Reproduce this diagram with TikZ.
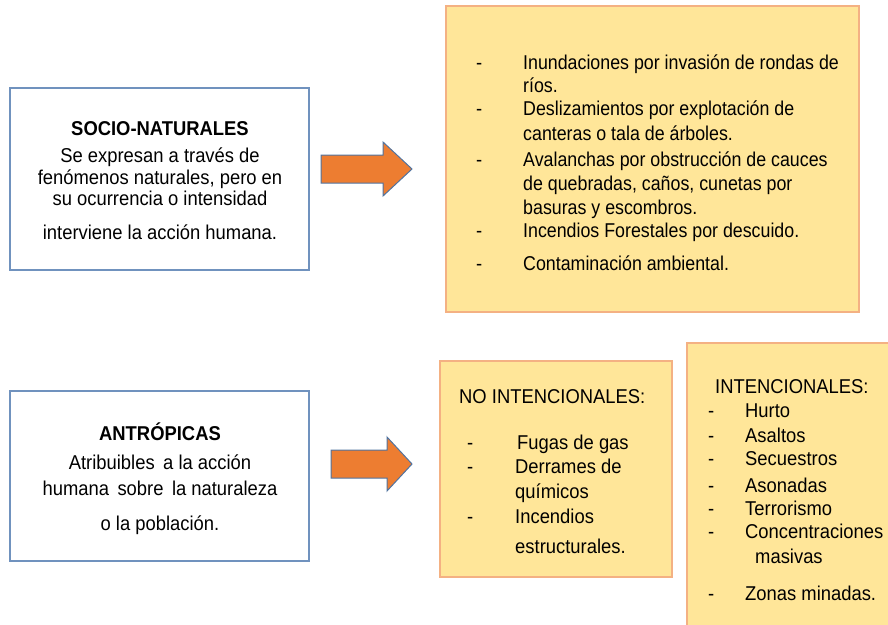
\documentclass[tikz,border=0pt]{standalone}
\usepackage{fontspec}
\setmainfont{Liberation Sans}[FakeStretch=0.92]
\newfontfamily\tightfont{Liberation Sans}[FakeStretch=0.89]
\definecolor{bluebd}{RGB}{112,146,190}
\definecolor{yelfill}{RGB}{255,230,153}
\definecolor{orabd}{RGB}{244,177,131}
\definecolor{arrfill}{RGB}{237,125,49}
\definecolor{arrbd}{RGB}{80,115,160}
\begin{document}
\begin{tikzpicture}[x=1pt,y=-1pt,
  bluebox/.style={draw=bluebd,line width=2pt,fill=white},
  yelbox/.style={draw=orabd,line width=1.5pt,fill=yelfill},
  bigarrow/.style={draw=arrbd,line width=1pt,fill=arrfill,line join=miter},
  txt/.style={inner sep=0pt,font=\fontsize{20}{24}\selectfont,text=black},
  ctxt/.style={txt,anchor=base},
  ltxt/.style={txt,anchor=base west},
  ttxt/.style={inner sep=0pt,font=\tightfont\fontsize{20}{24}\selectfont,text=black,anchor=base west}]
\useasboundingbox (0,0) rectangle (888,624);
\clip (0,0) rectangle (888,624);

% --- boxes ---
\draw[bluebox] (10,88) rectangle (309,270);
\coordinate (b1) at (160,0);
\draw[yelbox] (446,6) rectangle (859,312);
\draw[bluebox] (10,391) rectangle (309,561);
\draw[yelbox] (440,361) rectangle (672,577);
\draw[yelbox] (687,343) rectangle (900,640);

% --- arrows ---
\draw[bigarrow] (321,155) -- (383,155) -- (383,142) -- (412,169) -- (383,196) -- (383,183) -- (321,183) -- cycle;
\draw[bigarrow] (331,450) -- (387,450) -- (387,437) -- (412,464) -- (387,491) -- (387,478) -- (331,478) -- cycle;

% --- SOCIO-NATURALES ---
\node[ctxt,font=\bfseries\fontsize{20}{24}\selectfont] (s0) at (160,135) {SOCIO-NATURALES};
\node[ctxt] (s1) at (160,162) {Se expresan a través de};
\node[ctxt] (s2) at (160,184) {fenómenos naturales, pero en};
\node[ctxt] (s3) at (160,205) {su ocurrencia o intensidad};
\node[ctxt] (s4) at (160,239) {interviene la acción humana.};

% --- top list ---
\foreach \y/\n in {69/d1,115/d2,166/d3,237/d4,270/d5}
  \node[ltxt] (\n) at (476,\y) {-};
\node[ttxt] (t1) at (523,69) {Inundaciones por invasión de rondas de};
\node[ttxt] (t2) at (523,92) {ríos.};
\node[ttxt] (t3) at (523,115) {Deslizamientos por explotación de};
\node[ttxt] (t4) at (523,140) {canteras o tala de árboles.};
\node[ttxt] (t5) at (523,166) {Avalanchas por obstrucción de cauces};
\node[ttxt] (t6) at (523,190) {de quebradas, caños, cunetas por};
\node[ttxt] (t7) at (523,214) {basuras y escombros.};
\node[ttxt] (t8) at (523,237) {Incendios Forestales por descuido.};
\node[ttxt] (t9) at (523,270) {Contaminación ambiental.};

% --- ANTRÓPICAS ---
\node[ctxt,font=\bfseries\fontsize{20}{24}\selectfont] (a0) at (160,440) {ANTRÓPICAS};
\node[ctxt] (a1) at (160,469) {Atribuibles\, a la acción};
\node[ctxt] (a2) at (160,495) {humana\, sobre\, la naturaleza};
\node[ctxt] (a3) at (160,530) {o la población.};

% --- NO INTENCIONALES ---
\node[ltxt] (n0) at (459,403) {NO INTENCIONALES:};
\foreach \y/\n in {449/nd1,473/nd2,523/nd3}
  \node[ltxt] (\n) at (467,\y) {-};
\node[ltxt] (n1) at (517,449) {Fugas de gas};
\node[ltxt] (n2) at (515,473) {Derrames de};
\node[ltxt] (n3) at (515,498) {químicos};
\node[ltxt] (n4) at (515,523) {Incendios};
\node[ltxt] (n5) at (515,553) {estructurales.};

% --- INTENCIONALES ---
\node[ltxt] (i0) at (715,393) {INTENCIONALES:};
\foreach \y/\n in {417/id1,442/id2,465/id3,492/id4,515/id5,538/id6,600/id7}
  \node[ltxt] (\n) at (708,\y) {-};
\node[ltxt] (i1) at (745,417) {Hurto};
\node[ltxt] (i2) at (745,442) {Asaltos};
\node[ltxt] (i3) at (745,465) {Secuestros};
\node[ltxt] (i4) at (745,492) {Asonadas};
\node[ltxt] (i5) at (745,515) {Terrorismo};
\node[ltxt] (i6) at (745,538) {Concentraciones};
\node[ltxt] (i7) at (755,563) {masivas};
\node[ltxt] (i8) at (745,600) {Zonas minadas.};
\end{tikzpicture}
\end{document}
